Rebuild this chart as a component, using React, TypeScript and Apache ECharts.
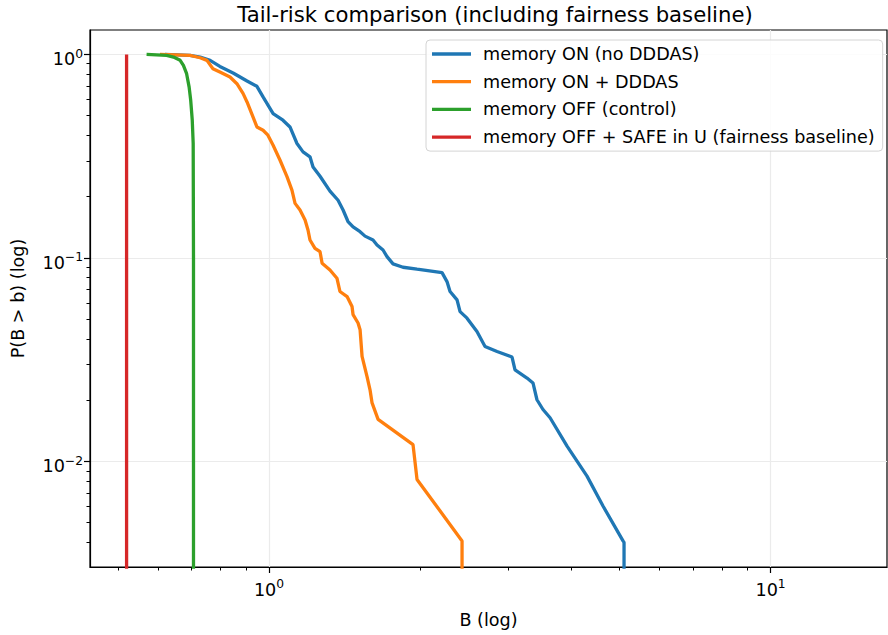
import React, { useEffect, useRef } from 'react';
import * as echarts from 'echarts';

const blueX = [0.62, 0.696, 0.729, 0.763, 0.798, 0.848, 0.904, 0.946, 0.973, 1.019, 1.066, 1.101, 1.137, 1.169, 1.207, 1.224, 1.264, 1.323, 1.373, 1.405, 1.437, 1.471, 1.519, 1.554, 1.612, 1.642, 1.688, 1.719, 1.767, 1.85, 1.973, 2.213, 2.264, 2.296, 2.371, 2.404, 2.482, 2.598, 2.696, 2.849, 3.052, 3.094, 3.269, 3.36, 3.422, 3.518, 3.634, 3.929, 4.306, 4.634, 5.08, 5.104, 5.104];
const blueY = [1.0, 0.989, 0.97, 0.935, 0.873, 0.81, 0.74, 0.697, 0.618, 0.512, 0.475, 0.44, 0.365, 0.332, 0.314, 0.28, 0.252, 0.213, 0.192, 0.172, 0.151, 0.142, 0.1345, 0.128, 0.1225, 0.1158, 0.1094, 0.1015, 0.0935, 0.09, 0.088, 0.0847, 0.0765, 0.0684, 0.0622, 0.0545, 0.0506, 0.0435, 0.0367, 0.0347, 0.0326, 0.0282, 0.0257, 0.0243, 0.0201, 0.018, 0.0164, 0.0119, 0.00847, 0.00604, 0.00407, 0.004, 0.0001];

const orangeX = [0.606, 0.696, 0.729, 0.752, 0.773, 0.798, 0.836, 0.863, 0.888, 0.904, 0.929, 0.946, 0.973, 0.995, 1.019, 1.052, 1.086, 1.111, 1.127, 1.153, 1.18, 1.196, 1.207, 1.235, 1.264, 1.276, 1.323, 1.366, 1.385, 1.431, 1.464, 1.471, 1.505, 1.519, 1.533, 1.568, 1.59, 1.605, 1.65, 1.937, 1.973, 2.426, 2.426];
const orangeY = [1.0, 0.989, 0.963, 0.935, 0.851, 0.819, 0.774, 0.718, 0.642, 0.584, 0.493, 0.44, 0.424, 0.401, 0.358, 0.302, 0.251, 0.2155, 0.1854, 0.172, 0.1536, 0.1372, 0.1225, 0.1115, 0.1073, 0.0942, 0.0873, 0.0795, 0.0684, 0.0646, 0.0577, 0.0526, 0.0479, 0.0444, 0.0328, 0.0262, 0.0225, 0.0194, 0.0161, 0.0121, 0.00816, 0.00407, 0.0001];

const greenX = [0.57, 0.625, 0.645, 0.665, 0.675, 0.685, 0.693, 0.698, 0.703, 0.706, 0.707, 0.707, 0.707];
const greenY = [1.0, 0.989, 0.97, 0.935, 0.883, 0.804, 0.691, 0.595, 0.475, 0.365, 0.1, 0.004, 0.0001];

const redX = [0.52, 0.52, 0.52];
const redY = [1.0, 0.004, 0.0001];

const seriesNames = [
  'memory ON (no DDDAS)',
  'memory ON + DDDAS',
  'memory OFF (control)',
  'memory OFF + SAFE in U (fairness baseline)',
];
const seriesColors = ['#1f77b4', '#ff7f0e', '#2ca02c', '#d62728'];

const xMajorTicks = [1, 10];
const xMinorTicks = [0.5, 0.6, 0.7, 0.8, 0.9, 2, 3, 4, 5, 6, 7, 8, 9];
const yMajorTicks = [1, 0.1, 0.01];
const yMinorTicks = [0.004, 0.005, 0.006, 0.007, 0.008, 0.009, 0.02, 0.03, 0.04, 0.05, 0.06, 0.07, 0.08, 0.09, 0.2, 0.3, 0.4, 0.5, 0.6, 0.7, 0.8, 0.9];

const X_MIN = 0.4396;
const X_MAX = 17.07;
const Y_MIN = 0.00303;
const Y_MAX = 1.318;

const FONT = 'DejaVu Sans';
const FS = 17.6;

const zip = (xs: number[], ys: number[]) => xs.map((x, i) => [x, ys[i]]);

const powLabel = (v: number) => {
  const e = Math.round(Math.log10(v));
  const s = e < 0 ? '\u2212' + String(-e) : String(e);
  return `{b|10}{s|${s}}`;
};

const rich = {
  b: { fontSize: FS, lineHeight: 23, fontFamily: FONT, color: '#000' },
  s: { fontSize: 12.3, lineHeight: 12.3, verticalAlign: 'top', fontFamily: FONT, color: '#000' },
};

export default function App() {
  const ref = useRef<HTMLDivElement>(null);
  useEffect(() => {
    if (!ref.current) return;
    const chart = echarts.init(ref.current, null, { renderer: 'svg' });
    const datasets = [zip(blueX, blueY), zip(orangeX, orangeY), zip(greenX, greenY), zip(redX, redY)];
    chart.setOption({
      animation: false,
      title: {
        text: 'Tail-risk comparison (including fairness baseline)',
        left: 490, top: -1, textAlign: 'center',
        textStyle: { fontFamily: FONT, fontSize: 21.2, fontWeight: 'normal', color: '#000' },
      },
      grid: { left: 90, top: 30, right: 1, bottom: 68, show: true, borderColor: '#000', borderWidth: 1.2, backgroundColor: 'transparent' },
      legend: {
        orient: 'vertical', left: 426, top: 40,
        padding: [5, 8, 5, 6],
        itemWidth: 39, itemHeight: 3.3, itemGap: 9.7, icon: 'rect',
        backgroundColor: 'rgba(255,255,255,0.85)', borderColor: '#d4d4d4', borderWidth: 1, borderRadius: 4,
        textStyle: { fontSize: FS, fontFamily: FONT, color: '#000', padding: [0, 0, 0, 7] },
        data: seriesNames,
      },
      xAxis: [
        {
          type: 'log', logBase: 10, min: X_MIN, max: X_MAX, position: 'bottom',
          name: 'B (log)', nameLocation: 'middle', nameGap: 44,
          nameTextStyle: { fontFamily: FONT, fontSize: FS, color: '#000' },
          axisLine: { show: true, lineStyle: { color: '#000', width: 1.2 } },
          axisTick: { show: true, length: 6, customValues: xMajorTicks, lineStyle: { color: '#000', width: 1.2 } },
          axisLabel: { customValues: xMajorTicks, formatter: powLabel, rich, margin: 11 },
          splitLine: { show: true, lineStyle: { color: '#ebebeb', width: 1.2 } },
        },
        {
          type: 'log', logBase: 10, min: X_MIN, max: X_MAX, position: 'bottom',
          axisLine: { show: false },
          axisTick: { show: true, length: 3.5, customValues: xMinorTicks, lineStyle: { color: '#000', width: 1 } },
          axisLabel: { show: false },
          splitLine: { show: false },
        },
      ],
      yAxis: [
        {
          type: 'log', logBase: 10, min: Y_MIN, max: Y_MAX, position: 'left',
          name: 'P(B > b) (log)', nameLocation: 'middle', nameGap: 63, nameRotate: 90,
          nameTextStyle: { fontFamily: FONT, fontSize: FS, color: '#000' },
          axisLine: { show: true, lineStyle: { color: '#000', width: 1.2 } },
          axisTick: { show: true, length: 6, customValues: yMajorTicks, lineStyle: { color: '#000', width: 1.2 } },
          axisLabel: { customValues: yMajorTicks, formatter: powLabel, rich, margin: 7, padding: [10, 0, 0, 0] },
          splitLine: { show: true, lineStyle: { color: '#ebebeb', width: 1.2 } },
        },
        {
          type: 'log', logBase: 10, min: Y_MIN, max: Y_MAX, position: 'left',
          axisLine: { show: false },
          axisTick: { show: true, length: 3.5, customValues: yMinorTicks, lineStyle: { color: '#000', width: 1 } },
          axisLabel: { show: false },
          splitLine: { show: false },
        },
      ],
      series: datasets.map((d, i) => ({
        type: 'line', name: seriesNames[i], data: d,
        xAxisIndex: 0, yAxisIndex: 0,
        showSymbol: false, symbol: 'none', clip: true, z: 2 + i,
        lineStyle: { width: 3.3, color: seriesColors[i] },
        itemStyle: { color: seriesColors[i] },
        emphasis: { disabled: true },
      })),
    });
    return () => chart.dispose();
  }, []);
  return <div ref={ref} style={{ position: 'fixed', left: 0, top: 0, width: 888, height: 635, background: '#fff' }} />;
}
